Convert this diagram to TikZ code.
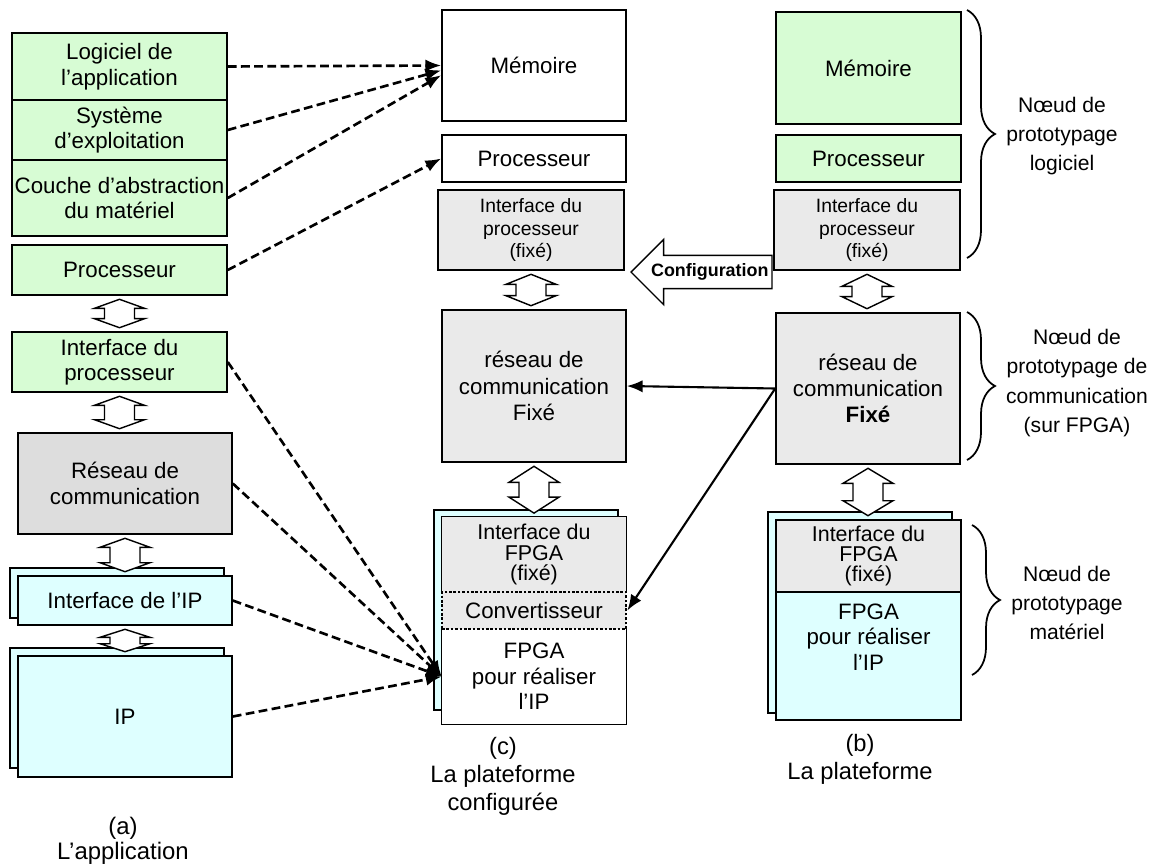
\documentclass[tikz,border=0pt]{standalone}
\usepackage{fontspec}
\setmainfont{Liberation Sans}
\usetikzlibrary{arrows.meta,shapes.arrows,decorations.pathreplacing,calc}

\definecolor{vertclair}{RGB}{215,252,212}
\definecolor{cyanclair}{RGB}{222,255,255}
\definecolor{grisfonce}{RGB}{221,221,221}
\definecolor{grisclair}{RGB}{234,234,234}

\newcommand{\ftxt}{\fontsize{12.7}{14.5}\selectfont}
\newcommand{\freseau}{\fontsize{12.7}{15}\selectfont}
\newcommand{\fpetit}{\fontsize{11}{13}\selectfont}
\newcommand{\ffpga}{\fontsize{12.2}{11.6}\selectfont}
\newcommand{\fnoeud}{\fontsize{12}{16.6}\selectfont}
\newcommand{\flega}{\fontsize{13.6}{14.2}\selectfont}
\newcommand{\flegb}{\fontsize{13.5}{16}\selectfont}
\newcommand{\fconfig}{\bfseries\fontsize{10.2}{12}\selectfont}

% double fleche verticale entre deux blocs
\newcommand{\dblfleche}[3]{%
  \draw[line width=0.8pt, fill=white] let \p1=(#1.south), \p2=(#2.north) in
    (\x1,\y1-2pt) -- (\x1+0.5cm,\y1-2pt-#3) -- (\x1+0.3cm,\y1-2pt-#3)
    -- (\x1+0.3cm,\y2+2pt+#3) -- (\x1+0.5cm,\y2+2pt+#3) -- (\x1,\y2+2pt)
    -- (\x1-0.5cm,\y2+2pt+#3) -- (\x1-0.3cm,\y2+2pt+#3)
    -- (\x1-0.3cm,\y1-2pt-#3) -- (\x1-0.5cm,\y1-2pt-#3) -- cycle;}

\begin{document}
\begin{tikzpicture}[x=0.02cm, y=-0.02cm,
  bloc/.style={draw, line width=0.9pt, inner sep=0.5pt, align=center, font=\ftxt},
  vert/.style={bloc, fill=vertclair},
  bleu/.style={bloc, fill=cyanclair},
  gris/.style={bloc, fill=grisclair},
  blanc/.style={bloc, fill=white},
  sz/.style 2 args={minimum width=#1*0.02cm, minimum height=#2*0.02cm},
  trait/.style={line width=0.9pt},
  pointille/.style={line width=1.5pt, dash pattern=on 5pt off 2.5pt, -{Latex[length=9pt,width=7pt]}},
  plein/.style={line width=1.2pt, -{Latex[length=9pt,width=7pt]}},
  accolade/.style={decorate, decoration={brace, amplitude=0.56cm}, line width=1pt},
  noeud/.style={font=\fnoeud, align=center}]

\useasboundingbox (0,0) rectangle (1165,865);

% (a) l'application
\node[vert, sz={215}{67}] (logA) at (119.5,66.5) {Logiciel de\\l’application};
\node[vert, sz={215}{60}] (osA) at (119.5,130) {Système\\d’exploitation};
\node[vert, sz={215}{76}] (halA) at (119.5,198) {Couche d’abstraction\\du matériel};
\node[vert, sz={215}{50}] (procA) at (119.5,270) {Processeur};
\node[vert, sz={215}{60}] (itfA) at (119.5,362) {Interface du\\processeur};
\node[bloc, fill=grisfonce, sz={214}{101}] (netA) at (125,483.5) {Réseau de\\communication};
\node[bleu, sz={214}{50}] (ipitfAfond) at (117,593) {};
\node[bleu, sz={214}{49}] (ipitfA) at (125,600.5) {Interface de l’IP};
\node[bleu, sz={214}{120}] (ipAfond) at (117,708) {};
\node[bleu, sz={214}{121}] (ipA) at (125,716.5) {IP};
\node[font=\flega, align=center] (legA) at (123,840.5) {(a)\\L’application};

\dblfleche{procA}{itfA}{0.18cm}
\dblfleche{itfA}{netA}{0.18cm}
\dblfleche{netA}{ipitfA}{0.18cm}
\dblfleche{ipitfA}{ipA}{0.16cm}

% (c) la plateforme configuree
\node[blanc, sz={184}{111}] (memC) at (534,65.5) {Mémoire};
\node[blanc, sz={184}{47}] (procC) at (534,158.5) {Processeur};
\node[gris, font=\fpetit, sz={186}{80}] (itfC) at (531,230) {Interface du\\processeur\\(fixé)};
\node[gris, font=\freseau, sz={184}{152}] (netC) at (534,386) {réseau de\\communication\\Fixé};
\node[bleu, sz={184}{200}] (fpgaCfond) at (526,610) {};
\node[fill=grisclair, font=\ffpga, align=center, inner sep=0.5pt, sz={184}{75}] (fitfC) at (534,554.5) {Interface du\\FPGA\\(fixé)};
\node[fill=white, font=\ftxt, align=center, inner sep=0.5pt, sz={184}{95}] (fpgaC) at (534,676.5) {FPGA\\pour réaliser\\l’IP};
\node[fill=grisclair, draw, densely dotted, line width=1.5pt, font=\ftxt, inner sep=0.5pt, sz={184}{37}] (convC) at (534,610.5) {Convertisseur};
\draw[trait] (fitfC.south west) |- (fitfC.north east) -- (fitfC.south east);
\draw[trait] (fpgaC.north west) |- (fpgaC.south east) -- (fpgaC.north east);
\node[font=\flegb, align=center] (legC) at (503,776) {(c)\\La plateforme\\configurée};

\dblfleche{itfC}{netC}{0.2cm}
\dblfleche{netC}{fitfC}{0.32cm}

% (b) la plateforme
\node[vert, sz={185}{112}] (memB) at (868.5,68) {Mémoire};
\node[vert, sz={185}{47}] (procB) at (868.5,158.5) {Processeur};
\node[gris, font=\fpetit, sz={186}{80}] (itfB) at (867,230) {Interface du\\processeur\\(fixé)};
\node[gris, font=\freseau, sz={184}{151}] (netB) at (868,388.5) {réseau de\\communication\\\textbf{Fixé}};
\node[bleu, sz={184}{201}] (fpgaBfond) at (860,612.5) {};
\node[gris, font=\ffpga, sz={185}{72}] (fitfB) at (868.5,556) {Interface du\\FPGA\\(fixé)};
\node[bleu, sz={185}{128}] (fpgaB) at (868.5,656) {};
\node[font=\ftxt, align=center] (fpgaBtxt) at (868.5,637) {FPGA\\pour réaliser\\l’IP};
\node[font=\flegb, align=center] (legB) at (860,759) {(b)\\La plateforme};

\dblfleche{itfB}{netB}{0.24cm}
\dblfleche{netB}{fitfB}{0.3cm}

\node[single arrow, draw, line width=0.8pt, fill=white, shape border rotate=180,
  single arrow head extend=0.32cm, minimum height=2.82cm, inner xsep=1pt, inner ysep=4.3pt,
  font=\fconfig, anchor=tip] (config) at (630,272) {Configuration};

% liens
\draw[pointille] (logA.east) -- (memC.west);
\draw[pointille] (osA.east) -- (memC.183);
\draw[pointille] (halA.east) -- (memC.186);
\draw[pointille] (procA.east) -- (procC.west);
\foreach \src in {itfA, netA, ipitfA, ipA}
  \draw[pointille] (\src.east) -- (fpgaC.west);
\draw[plein] (netB.west) -- (netC.east);
\draw[plein] (netB.west) -- (convC.east);

% accolades
\coordinate (acc1h) at (967,10);
\coordinate (acc1b) at (967,258);
\coordinate (acc2h) at (967,312);
\coordinate (acc2b) at (967,460);
\coordinate (acc3h) at (972,525);
\coordinate (acc3b) at (972,675);
\draw[accolade] (acc1h) -- (acc1b);
\draw[accolade] (acc2h) -- (acc2b);
\draw[accolade] (acc3h) -- (acc3b);
\node[noeud] (noeudlog) at (1062,136) {Nœud de\\prototypage\\logiciel};
\node[noeud] (noeudcom) at (1077,383) {Nœud de\\prototypage de\\communication\\(sur FPGA)};
\node[noeud] (noeudmat) at (1067,603) {Nœud de\\prototypage\\matériel};
\end{tikzpicture}
\end{document}
